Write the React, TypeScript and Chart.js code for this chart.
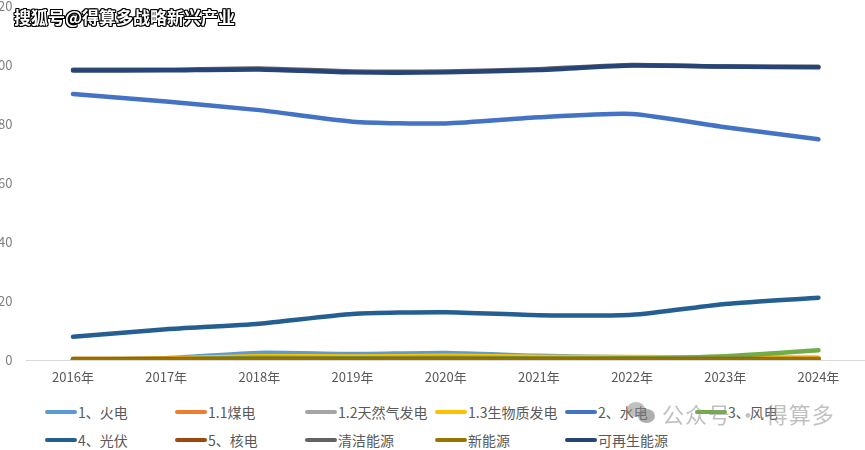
import React, { useEffect, useRef } from "react";
import { Chart, registerables } from "chart.js";

Chart.register(...registerables);

if (typeof document !== "undefined") {
  document.body.style.margin = "0";
}

const years = ["2016年", "2017年", "2018年", "2019年", "2020年", "2021年", "2022年", "2023年", "2024年"];
const yTicks = [0, 20, 40, 60, 80, 100, 120];

const huoDian = [0.1, 0.6, 2.4, 2.0, 2.4, 1.4, 0.9, 0.8, 0.7];
const meiDian = [0.1, 0.3, 1.2, 1.0, 1.2, 0.8, 0.5, 0.5, 0.4];
const tianRanQi = [0.0, 0.2, 1.0, 0.9, 1.0, 0.6, 0.4, 0.3, 0.3];
const shengWuZhi = [0.3, 0.5, 1.3, 1.2, 1.4, 1.1, 1.0, 0.8, 0.8];
const shuiDian = [90.2, 87.6, 84.7, 80.8, 80.2, 82.3, 83.4, 78.9, 74.8];
const fengDian = [0.0, 0.2, 0.8, 0.6, 0.8, 0.5, 0.6, 1.3, 3.3];
const guangFu = [7.9, 10.4, 12.3, 15.6, 16.2, 15.2, 15.3, 19.0, 21.1];
const heDian = [0.3, 0.3, 0.3, 0.3, 0.3, 0.3, 0.3, 0.3, 0.3];
const qingJie = [98.4, 98.4, 98.8, 97.8, 97.8, 98.6, 100.0, 99.5, 99.4];
const xinNengYuan = [0.1, 0.1, 0.2, 0.2, 0.2, 0.2, 0.2, 0.2, 0.2];
const keZaiSheng = [98.1, 98.2, 98.5, 97.5, 97.5, 98.3, 99.8, 99.5, 99.2];

const seriesNames = ["1、火电", "1.1煤电", "1.2天然气发电", "1.3生物质发电", "2、水电", "3、风电", "4、光伏", "5、核电", "清洁能源", "新能源", "可再生能源"];
const seriesData = [huoDian, meiDian, tianRanQi, shengWuZhi, shuiDian, fengDian, guangFu, heDian, qingJie, xinNengYuan, keZaiSheng];
const seriesColors = ["#5B9BD5", "#ED7D31", "#A5A5A5", "#FFC000", "#4472C4", "#70AD47", "#255E91", "#9E480E", "#636363", "#997300", "#264478"];

const FONT = '"Noto Sans CJK SC", "Noto Sans", sans-serif';

const yLabelPlugin = {
  id: "yLabels",
  afterDraw(chart: any) {
    const y = chart.scales.y;
    const ctx = chart.ctx;
    ctx.save();
    ctx.font = `13px ${FONT}`;
    ctx.fillStyle = "#7F7F7F";
    ctx.textAlign = "right";
    ctx.textBaseline = "middle";
    const xr = chart.chartArea.left - 14;
    yTicks.forEach((v) => {
      ctx.fillText(String(v), xr, y.getPixelForValue(v));
    });
    ctx.restore();
  },
};

export default function App() {
  const canvasRef = useRef<HTMLCanvasElement | null>(null);

  useEffect(() => {
    document.body.style.margin = "0";
    if (!canvasRef.current) return;
    const chart = new Chart(canvasRef.current, {
      type: "line",
      data: {
        labels: years,
        datasets: seriesNames.map((name, i) => ({
          label: name,
          data: seriesData[i],
          borderColor: seriesColors[i],
          backgroundColor: seriesColors[i],
          borderWidth: 4.5,
          pointRadius: 0,
          tension: 0.2,
          borderCapStyle: "round" as const,
          borderJoinStyle: "round" as const,
          fill: false,
          order: -i,
        })),
      },
      options: {
        responsive: false,
        animation: false,
        layout: { padding: { top: 26, left: 0, right: 0, bottom: 0 } },
        plugins: { legend: { display: false }, tooltip: { enabled: false } },
        scales: {
          x: {
            offset: true,
            grid: { display: false, drawTicks: false },
            border: { display: true, color: "#D9D9D9", width: 1 },
            ticks: { color: "#595959", font: { family: FONT, size: 13 }, padding: 9, maxRotation: 0 },
            afterFit: (s: any) => { s.height = 40; },
          },
          y: {
            min: 0,
            max: 120,
            afterBuildTicks: (s: any) => { s.ticks = yTicks.map((v) => ({ value: v })); },
            grid: { display: false, drawTicks: false },
            border: { display: false },
            ticks: { display: false },
            afterFit: (s: any) => { s.width = 38.4; },
          },
        },
      },
      plugins: [yLabelPlugin],
    });
    return () => chart.destroy();
  }, []);

  const legendItem = (i: number, row: number, col: number) => (
    <div key={i} style={{ position: "absolute", left: 45 + 130 * col, top: row === 0 ? 403 : 431, height: 18, lineHeight: "18px", display: "flex", alignItems: "center", whiteSpace: "nowrap" }}>
      <div style={{ width: 32, height: 4, borderRadius: 2, background: seriesColors[i], marginRight: 1 }} />
      <span style={{ fontFamily: FONT, fontSize: 14, lineHeight: "18px", color: "#595959" }}>{seriesNames[i]}</span>
    </div>
  );

  return (
    <div style={{ position: "relative", width: 865, height: 450, overflow: "hidden", background: "#fff" }}>
      <canvas ref={canvasRef} width={877} height={420} style={{ position: "absolute", left: -12, top: -20, width: 877, height: 420 }} />
      <div style={{ position: "absolute", left: 14, top: 5, fontFamily: FONT, fontWeight: 700, fontSize: 17, lineHeight: "24px", color: "#fff", textShadow: "1px 1px 0 #000, -1px -1px 0 #000, 1px -1px 0 #000, -1px 1px 0 #000, 0 1px 0 #000, 1px 0 0 #000, 0 -1px 0 #000, -1px 0 0 #000", whiteSpace: "nowrap" }}>
        搜狐号@得算多战略新兴产业
      </div>
      {seriesNames.map((_, i) => legendItem(i, i < 6 ? 0 : 1, i < 6 ? i : i - 6))}
      <div style={{ position: "absolute", left: 627, top: 402, width: 18, height: 15, borderRadius: "50%", background: "rgba(140,140,140,0.55)" }} />
      <div style={{ position: "absolute", left: 638, top: 409, width: 17, height: 14, borderRadius: "50%", background: "rgba(120,120,120,0.6)" }} />
      <div style={{ position: "absolute", left: 662, top: 398, fontFamily: FONT, fontSize: 22, lineHeight: "30px", color: "rgba(150,150,150,0.6)", whiteSpace: "nowrap", letterSpacing: 1 }}>
        公众号 · 得算多
      </div>
    </div>
  );
}
